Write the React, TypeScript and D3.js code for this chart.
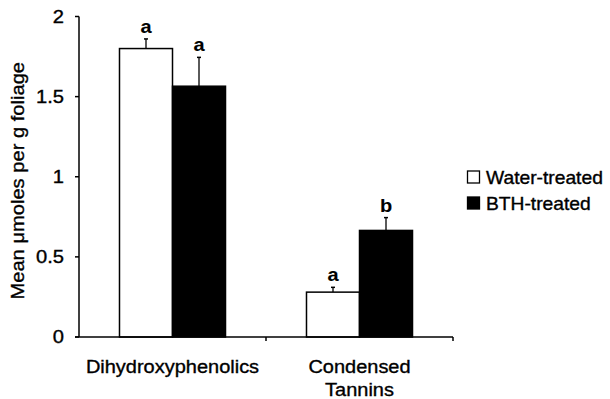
import React from "react";
import * as d3 from "d3";

const categories = ["Dihydroxyphenolics", "Condensed Tannins"];
const categoryLines = [["Dihydroxyphenolics"], ["Condensed", "Tannins"]];
const seriesNames = ["Water-treated", "BTH-treated"];
const waterMeans = [1.8, 0.28];
const waterErr = [0.06, 0.03];
const bthMeans = [1.565, 0.665];
const bthErr = [0.18, 0.08];
const waterLetters = ["a", "a"];
const bthLetters = ["a", "b"];
const yTicks = [0, 0.5, 1, 1.5, 2];
const yTickLabels = ["0", "0.5", "1", "1.5", "2"];

const FONT = "'Liberation Sans', Arial, Helvetica, sans-serif";

function SText(props: {
  x: number; y: number; sx?: number; size: number; anchor?: string; bold?: boolean; rotate?: number; dy?: string; children: any;
}) {
  const { x, y, sx = 1, size, anchor = "start", bold, rotate = 0, dy, children } = props;
  return (
    <text
      transform={`translate(${x},${y}) rotate(${rotate}) scale(${sx},1)`}
      textAnchor={anchor}
      fontSize={size}
      fontWeight={bold ? "bold" : "normal"}
      dy={dy}
      stroke="#000"
      strokeWidth={bold ? 0.1 : 0.35}
      fill="#000"
    >
      {children}
    </text>
  );
}

export default function App() {
  const W = 610, H = 399;
  const x0 = 79, x1 = 453, yTop = 16.5, yBot = 337;
  const y = d3.scaleLinear().domain([0, 2]).range([yBot, yTop]);
  const xb = d3.scaleBand().domain(categories).range([x0, x1]).padding(0);
  const xs = d3.scaleBand().domain(seriesNames).range([0, xb.bandwidth()]).paddingInner(0).paddingOuter(0.764);
  const series = [
    { name: seriesNames[0], means: waterMeans, errs: waterErr, letters: waterLetters, fill: "#fff" },
    { name: seriesNames[1], means: bthMeans, errs: bthErr, letters: bthLetters, fill: "#000" },
  ];
  return (
    <svg width={W} height={H} style={{ position: "absolute", left: 0, top: 0, background: "#fff" }} fontFamily={FONT}>
      <rect width={W} height={H} fill="#fff" />
      {series.map((s) =>
        categories.map((c, i) => {
          const bx = (xb(c) as number) + (xs(s.name) as number);
          const bw = xs.bandwidth();
          const cx = bx + bw / 2;
          const top = y(s.means[i]);
          const et = y(s.means[i] + s.errs[i]);
          return (
            <g key={s.name + c}>
              <line x1={cx} x2={cx} y1={top} y2={et} stroke="#000" strokeWidth={1.3} />
              <line x1={cx - 2} x2={cx + 2} y1={et} y2={et} stroke="#000" strokeWidth={1.5} />
              <rect x={bx} y={top} width={bw} height={yBot - top} fill={s.fill} stroke="#000" strokeWidth={1.5} />
              <SText x={cx} y={et - 6} anchor="middle" size={19} sx={1.05} bold>{s.letters[i]}</SText>
            </g>
          );
        })
      )}
      {/* axes */}
      <line x1={x0} x2={x0} y1={yTop} y2={yBot} stroke="#000" strokeWidth={1.5} />
      <line x1={x0 - 4} x2={x1} y1={yBot} y2={yBot} stroke="#000" strokeWidth={1.5} />
      {yTicks.map((t, i) => (
        <g key={t}>
          <line x1={x0 - 4} x2={x0} y1={y(t)} y2={y(t)} stroke="#000" strokeWidth={1.5} />
          <SText x={x0 - 15} y={y(t)} dy="0.36em" anchor="end" size={18} sx={1.12}>{yTickLabels[i]}</SText>
        </g>
      ))}
      {categories.map((c) => (
        <line key={c} x1={(xb(c) as number) + xb.bandwidth()} x2={(xb(c) as number) + xb.bandwidth()} y1={yBot} y2={yBot + 4} stroke="#000" strokeWidth={1.5} />
      ))}
      {categories.map((c, i) =>
        categoryLines[i].map((l, j) => (
          <SText key={c + j} x={(xb(c) as number) + xb.bandwidth() / 2} y={373 + j * 23} anchor="middle" size={18.5} sx={1.08}>{l}</SText>
        ))
      )}
      <SText x={24} y={(yTop + yBot) / 2 + 4} rotate={-90} anchor="middle" size={19} sx={1.06}>
        Mean μmoles per g foliage
      </SText>
      {/* legend */}
      {series.map((s, i) => (
        <g key={s.name}>
          <rect x={467.5} y={171 + i * 26} width={12} height={12} fill={s.fill} stroke="#000" strokeWidth={1.3} />
          <SText x={486} y={184 + i * 26} size={17.5} sx={1.1}>{s.name}</SText>
        </g>
      ))}
    </svg>
  );
}
